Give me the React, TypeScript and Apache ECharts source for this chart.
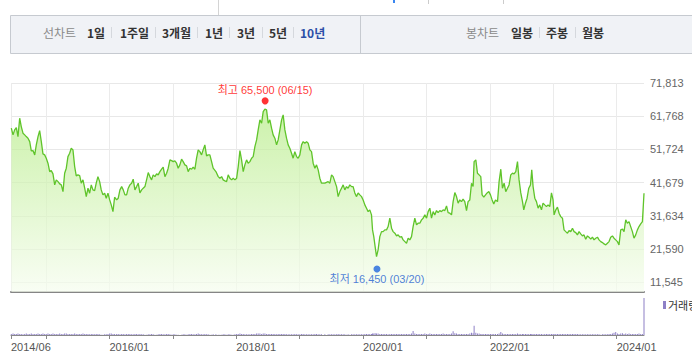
import React, { useEffect, useRef } from 'react';
import * as echarts from 'echarts';

// time in decimal years
const dates = [
  2014.453, 2014.480, 2014.506, 2014.532, 2014.558, 2014.585, 2014.610, 2014.637, 2014.664, 2014.689,
  2014.716, 2014.743, 2014.768, 2014.795, 2014.822, 2014.847, 2014.874, 2014.900, 2014.926, 2014.952,
  2014.979, 2015.004, 2015.031, 2015.058, 2015.083, 2015.110, 2015.137, 2015.162, 2015.189, 2015.216,
  2015.241, 2015.268, 2015.294, 2015.320, 2015.346, 2015.373, 2015.398, 2015.425, 2015.452, 2015.477,
  2015.504, 2015.531, 2015.556, 2015.583, 2015.610, 2015.635, 2015.662, 2015.688, 2015.714, 2015.740,
  2015.767, 2015.792, 2015.819, 2015.846, 2015.871, 2015.898, 2015.925, 2015.950, 2015.977, 2016.004,
  2016.029, 2016.056, 2016.082, 2016.114, 2016.139, 2016.166, 2016.193, 2016.218, 2016.245, 2016.271,
  2016.297, 2016.323, 2016.350, 2016.375, 2016.402, 2016.429, 2016.454, 2016.481, 2016.508, 2016.533,
  2016.560, 2016.586, 2016.612, 2016.638, 2016.665, 2016.690, 2016.717, 2016.744, 2016.769, 2016.796,
  2016.823, 2016.848, 2016.875, 2016.902, 2016.927, 2016.954, 2016.980, 2017.006, 2017.032, 2017.059,
  2017.084, 2017.111, 2017.138, 2017.163, 2017.190, 2017.217, 2017.242, 2017.269, 2017.296, 2017.321,
  2017.348, 2017.374, 2017.400, 2017.426, 2017.453, 2017.478, 2017.505, 2017.532, 2017.557, 2017.584,
  2017.611, 2017.636, 2017.679, 2017.716, 2017.742, 2017.769, 2017.794, 2017.821, 2017.848, 2017.873,
  2017.900, 2017.927, 2017.952, 2017.979, 2018.006, 2018.031, 2018.058, 2018.084, 2018.110, 2018.136,
  2018.163, 2018.188, 2018.215, 2018.242, 2018.267, 2018.294, 2018.321, 2018.346, 2018.373, 2018.400,
  2018.425, 2018.452, 2018.478, 2018.504, 2018.530, 2018.557, 2018.582, 2018.609, 2018.636, 2018.661,
  2018.688, 2018.715, 2018.740, 2018.767, 2018.793, 2018.819, 2018.845, 2018.872, 2018.897, 2018.924,
  2018.951, 2018.976, 2019.003, 2019.030, 2019.055, 2019.082, 2019.109, 2019.134, 2019.161, 2019.187,
  2019.213, 2019.240, 2019.266, 2019.292, 2019.318, 2019.345, 2019.397, 2019.449, 2019.476, 2019.503,
  2019.528, 2019.555, 2019.582, 2019.607, 2019.634, 2019.660, 2019.686, 2019.712, 2019.739, 2019.764,
  2019.791, 2019.818, 2019.843, 2019.870, 2019.897, 2019.922, 2019.949, 2019.976, 2020.001, 2020.028,
  2020.054, 2020.080, 2020.106, 2020.133, 2020.149, 2020.169, 2020.190, 2020.212, 2020.237, 2020.264,
  2020.291, 2020.316, 2020.343, 2020.370, 2020.395, 2020.422, 2020.449, 2020.474, 2020.501, 2020.528,
  2020.553, 2020.580, 2020.607, 2020.632, 2020.659, 2020.685, 2020.711, 2020.737, 2020.764, 2020.789,
  2020.816, 2020.843, 2020.868, 2020.895, 2020.922, 2020.947, 2020.974, 2021.001, 2021.026, 2021.053,
  2021.079, 2021.105, 2021.131, 2021.158, 2021.183, 2021.210, 2021.237, 2021.262, 2021.289, 2021.316,
  2021.341, 2021.368, 2021.395, 2021.420, 2021.447, 2021.473, 2021.499, 2021.525, 2021.552, 2021.577,
  2021.604, 2021.631, 2021.656, 2021.683, 2021.710, 2021.735, 2021.751, 2021.778, 2021.804, 2021.830,
  2021.856, 2021.877, 2021.904, 2021.931, 2021.956, 2021.983, 2022.009, 2022.035, 2022.061, 2022.088,
  2022.120, 2022.145, 2022.172, 2022.198, 2022.224, 2022.250, 2022.277, 2022.302, 2022.329, 2022.356,
  2022.381, 2022.408, 2022.435, 2022.460, 2022.487, 2022.514, 2022.534, 2022.561, 2022.586, 2022.613,
  2022.640, 2022.660, 2022.681, 2022.708, 2022.734, 2022.760, 2022.786, 2022.813, 2022.838, 2022.865,
  2022.892, 2022.917, 2022.944, 2022.971, 2022.996, 2023.012, 2023.039, 2023.065, 2023.091, 2023.117,
  2023.144, 2023.169, 2023.196, 2023.223, 2023.248, 2023.275, 2023.302, 2023.327, 2023.354, 2023.380,
  2023.406, 2023.432, 2023.459, 2023.484, 2023.511, 2023.538, 2023.563, 2023.590, 2023.617, 2023.642,
  2023.669, 2023.696, 2023.721, 2023.748, 2023.775, 2023.800, 2023.827, 2023.853, 2023.879, 2023.905,
  2023.932, 2023.957, 2023.984, 2024.011, 2024.036, 2024.063, 2024.090, 2024.115, 2024.142, 2024.168,
  2024.194, 2024.220, 2024.247, 2024.272, 2024.299, 2024.326, 2024.351, 2024.378, 2024.405, 2024.430,
];

const closes = [
  58140, 56110, 57620, 58320, 55600, 61160, 58620, 56630, 56110, 55600,
  55110, 54080, 51270, 51360, 50060, 53090, 55600, 57410, 54080, 50360,
  50060, 49060, 47550, 45010, 45310, 44310, 40980, 42500, 41980, 41290,
  40980, 38960, 44520, 46040, 49550, 50570, 52090, 51570, 46520, 43710,
  44010, 43800, 41500, 42500, 39990, 37440, 39990, 38470, 40980, 39470,
  39260, 41500, 43490, 41980, 39470, 37960, 38470, 36960, 38470, 36440,
  34930, 32900, 37260, 36440, 36960, 39470, 40470, 39470, 37960, 37960,
  39990, 40980, 41500, 42710, 39470, 40470, 41500, 38560, 39470, 39990,
  40470, 42500, 44700, 43490, 42500, 44010, 43490, 44310, 44010, 45010,
  45730, 46340, 43490, 44520, 46040, 48550, 48340, 48030, 48240, 47550,
  46040, 47030, 48760, 48030, 47030, 46730, 45010, 46040, 45730, 46340,
  45730, 49060, 51570, 51060, 50060, 51570, 53090, 49760, 50060, 50060,
  48030, 46040, 45010, 43490, 43010, 43490, 42500, 42190, 41980, 44010,
  43010, 42500, 43010, 42500, 43010, 46520, 51360, 48550, 45010, 47030,
  48550, 47550, 48030, 49060, 49550, 52570, 54600, 57620, 60650, 59650,
  63160, 63890, 63670, 59650, 60650, 58140, 56110, 55110, 53090, 54600,
  57620, 60650, 62160, 57620, 55110, 53090, 52090, 50570, 49060, 51060,
  49550, 49060, 50060, 53090, 54080, 53600, 54080, 53600, 51570, 51060,
  47550, 46040, 47030, 45520, 43010, 41500, 41500, 41980, 41500, 44010,
  43490, 41980, 40470, 37440, 38960, 39990, 40980, 39470, 40470, 39990,
  40980, 40470, 40470, 38560, 37440, 38560, 37960, 37440, 36440, 34930,
  33930, 32900, 33420, 31910, 27370, 25340, 22320, 19290, 21320, 25340,
  26850, 26850, 27370, 27370, 28370, 30910, 27880, 26850, 26370, 25550,
  25860, 25160, 25340, 24340, 23830, 23340, 24860, 24340, 25340, 28370,
  30910, 28880, 29400, 29400, 30390, 30910, 31910, 30910, 32900, 33930,
  30910, 32900, 31910, 33210, 32600, 33210, 32900, 33420, 33210, 34630,
  32600, 32420, 31910, 35930, 38650, 37440, 35450, 36440, 35930, 36660,
  35930, 33210, 35930, 36440, 41500, 40470, 48030, 48550, 44520, 44010,
  43490, 37960, 37260, 37960, 38560, 38960, 37960, 36440, 35230, 36440,
  35930, 41980, 45730, 39990, 41500, 38960, 39990, 40980, 44010, 44520,
  44310, 45010, 48030, 42500, 38560, 35930, 33420, 35450, 36960, 39990,
  40980, 45520, 40470, 36960, 35930, 33930, 34930, 33420, 35450, 34930,
  34420, 34930, 34420, 38560, 36440, 31910, 33420, 34240, 32420, 31390,
  30910, 27370, 26850, 26370, 27160, 26850, 27880, 26850, 26550, 25860,
  26850, 26160, 25550, 25860, 24560, 25550, 25160, 24560, 25160, 24340,
  24860, 25160, 24340, 23830, 23530, 23130, 22830, 23340, 23830, 25160,
  25550, 24860, 24340, 23830, 22830, 27370, 27580, 26850, 30390, 29400,
  29880, 28370, 26850, 24860, 25860, 27370, 28370, 29180, 29880, 38470,
];

const volumes = [
  3, 4, 3, 3, 4, 3, 3, 2, 3, 4, 3, 3, 4, 3, 3, 3, 4, 3, 3, 4,
  3, 3, 4, 3, 3, 4, 3, 3, 3, 4, 3, 3, 4, 4, 3, 3, 3, 3, 4, 3,
  3, 3, 3, 4, 3, 3, 3, 2, 3, 3, 2, 3, 3, 2, 1, 1, 2, 2, 3, 4,
  4, 3, 3, 3, 3, 2, 3, 3, 2, 3, 3, 3, 2, 2, 3, 3, 2, 3, 2, 2,
  1, 1, 2, 2, 3, 2, 1, 1, 2, 3, 3, 2, 2, 3, 3, 2, 1, 2, 2, 1,
  1, 0, 1, 2, 2, 1, 2, 3, 3, 2, 2, 3, 4, 3, 2, 2, 3, 2, 2, 1,
  1, 2, 2, 1, 1, 1, 2, 2, 1, 2, 2, 1, 1, 2, 3, 3, 4, 3, 3, 2,
  2, 2, 2, 3, 3, 3, 4, 4, 4, 3, 4, 4, 3, 3, 3, 3, 3, 3, 2, 3,
  3, 3, 3, 3, 2, 2, 2, 2, 2, 3, 2, 2, 2, 3, 3, 2, 2, 2, 2, 2,
  2, 3, 3, 2, 2, 2, 2, 2, 2, 2, 2, 2, 2, 3, 2, 2, 2, 2, 1, 2,
  1, 2, 2, 2, 2, 2, 2, 2, 2, 3, 3, 3, 3, 3, 4, 4, 5, 4, 4, 3,
  3, 3, 3, 3, 2, 3, 3, 3, 3, 3, 3, 3, 3, 3, 3, 3, 3, 3, 4, 11,
  4, 3, 3, 3, 3, 3, 4, 3, 3, 4, 3, 3, 3, 3, 3, 3, 3, 4, 3, 3,
  3, 3, 4, 10, 5, 4, 3, 3, 3, 3, 3, 3, 3, 4, 6, 5, 25, 6, 4, 4,
  3, 3, 3, 3, 3, 3, 3, 3, 3, 3, 3, 4, 8, 4, 3, 3, 3, 3, 3, 3,
  3, 3, 4, 3, 3, 3, 3, 3, 3, 3, 3, 3, 3, 3, 3, 3, 3, 3, 2, 3,
  3, 3, 3, 3, 3, 3, 3, 3, 3, 3, 3, 3, 3, 3, 3, 3, 3, 3, 3, 3,
  2, 2, 2, 2, 2, 2, 2, 2, 2, 2, 2, 2, 2, 1, 2, 2, 2, 2, 3, 3,
  4, 6, 8, 4, 3, 4, 5, 3, 4, 3, 4, 3, 3, 3, 3, 3, 4, 3, 3, 100,
];

const yTicks = [11545, 21590, 31634, 41679, 51724, 61768, 71813];
const xStart = 2014.448;
const xEnd = 2024.43;
const xTicks = [2014.448, 2015, 2016, 2017, 2018, 2019, 2020, 2021, 2022, 2023, 2024];
const xLabelTicks = [2014.448, 2016, 2018, 2020, 2022, 2024];
const highPoint = { date: 2018.455, value: 65500, text: '06/15' };
const lowPoint = { date: 2020.219, value: 16450, text: '03/20' };
const periodTabs = ['1일', '1주일', '3개월', '1년', '3년', '5년', '10년'];
const candleTabs = ['일봉', '주봉', '월봉'];

const KR = "'Noto Sans CJK KR', sans-serif";
const NUM = "'Liberation Sans', 'Noto Sans CJK KR', sans-serif";

function fmtYM(v: number) {
  const y = Math.floor(v + 1e-9);
  const m = Math.floor((v - y) * 12 + 1e-6) + 1;
  return `${y}/${String(m).padStart(2, '0')}`;
}
function fmtNum(v: number) {
  return Math.round(v).toLocaleString('en-US');
}

export default function App() {
  const ref = useRef<HTMLDivElement>(null);
  useEffect(() => {
    document.body.style.margin = '0';
    if (!ref.current) return;
    const chart = echarts.init(ref.current, undefined, { renderer: 'svg' });

    const periodX = [87, 120, 162, 205, 237, 269, 300];
    const periodSep = [111, 155, 197, 229, 262, 293];
    const candleX = [511, 546, 582];
    const candleSep = [539, 575];

    const graphics: any[] = [
      { type: 'line', shape: { x1: 218.5, y1: 0, x2: 218.5, y2: 15 }, style: { stroke: '#d4d4d4', lineWidth: 1 } },
      { type: 'rect', shape: { x: 393, y: 0, width: 2, height: 3 }, style: { fill: '#3a86f0' } },
      { type: 'line', shape: { x1: 428.5, y1: 0, x2: 428.5, y2: 4 }, style: { stroke: '#cccccc', lineWidth: 1 } },
      { type: 'line', shape: { x1: 503.5, y1: 0, x2: 503.5, y2: 4 }, style: { stroke: '#cccccc', lineWidth: 1 } },
      { type: 'rect', shape: { x: 10.5, y: 15.5, width: 690, height: 38 }, style: { fill: '#f0f2f6', stroke: '#c6cad0', lineWidth: 1 } },
      { type: 'line', shape: { x1: 360.5, y1: 15.5, x2: 360.5, y2: 53.5 }, style: { stroke: '#c6cad0', lineWidth: 1 } },
      { type: 'text', x: 43, y: 32, style: { text: '선차트', fontSize: 12, fontFamily: KR, fill: '#8a8a8a', verticalAlign: 'middle' } },
      { type: 'text', x: 466, y: 32, style: { text: '봉차트', fontSize: 12, fontFamily: KR, fill: '#8a8a8a', verticalAlign: 'middle' } },
    ];
    periodTabs.forEach((t, i) => {
      graphics.push({ type: 'text', x: periodX[i], y: 32, style: { text: t, fontSize: 12, fontWeight: 'bold', fontFamily: KR, fill: i === periodTabs.length - 1 ? '#2c4fa8' : '#333333', verticalAlign: 'middle' } });
    });
    periodSep.forEach((x) => graphics.push({ type: 'line', shape: { x1: x + 0.5, y1: 27, x2: x + 0.5, y2: 38 }, style: { stroke: '#d5d8dd', lineWidth: 1 } }));
    candleTabs.forEach((t, i) => {
      graphics.push({ type: 'text', x: candleX[i], y: 32, style: { text: t, fontSize: 12, fontWeight: 'bold', fontFamily: KR, fill: '#333333', verticalAlign: 'middle' } });
    });
    candleSep.forEach((x) => graphics.push({ type: 'line', shape: { x1: x + 0.5, y1: 27, x2: x + 0.5, y2: 38 }, style: { stroke: '#d5d8dd', lineWidth: 1 } }));
    graphics.push({ type: 'rect', shape: { x: 663, y: 301, width: 3, height: 8 }, style: { fill: '#8e80c6' } });
    graphics.push({ type: 'text', x: 668, y: 305, style: { text: '거래량', fontSize: 11, fontFamily: KR, fill: '#333333', verticalAlign: 'middle' } });

    const priceData = dates.map((d, i) => [d, closes[i]]);
    const volData = dates.map((d, i) => [d, volumes[i]]);

    chart.setOption({
      animation: false,
      graphic: graphics,
      grid: [
        { left: 11, width: 633, top: 83, height: 209 },
        { left: 11, width: 633, top: 298, height: 37 },
      ],
      xAxis: [
        {
          type: 'value', gridIndex: 0, min: xStart, max: xEnd,
          axisLine: { show: true, lineStyle: { color: '#858585', width: 2 } },
          axisTick: { show: false, customValues: xTicks },
          axisLabel: { show: false },
          splitLine: { show: true, lineStyle: { color: '#ebebeb', width: 1 } },
        },
        {
          type: 'value', gridIndex: 1, min: xStart, max: xEnd,
          axisLine: { show: true, lineStyle: { color: '#888888', width: 1 } },
          axisTick: { show: true, length: 4, customValues: xTicks, lineStyle: { color: '#888888' } },
          axisLabel: { show: true, customValues: xLabelTicks, formatter: (v: number) => fmtYM(v), align: 'left', margin: 6, fontSize: 11, fontFamily: NUM, color: '#555555' },
          splitLine: { show: false },
        },
      ],
      yAxis: [
        {
          type: 'value', gridIndex: 0, position: 'right', min: 8580, max: 71813,
          axisLine: { show: false },
          axisTick: { show: false, customValues: yTicks },
          axisLabel: { show: true, customValues: yTicks, formatter: (v: number) => fmtNum(v), margin: 6, fontSize: 11, fontFamily: NUM, color: '#666666' },
          splitLine: { show: true, lineStyle: { color: '#e8e8e8', width: 1 } },
        },
        {
          type: 'value', gridIndex: 1, min: 0, max: Math.max(...volumes),
          show: false,
          splitLine: { show: false },
        },
      ],
      series: [
        {
          type: 'line', xAxisIndex: 0, yAxisIndex: 0, data: priceData,
          showSymbol: false, symbol: 'none',
          lineStyle: { color: '#5fc42a', width: 1.3 },
          areaStyle: {
            color: new echarts.graphic.LinearGradient(0, 0, 0, 1, [
              { offset: 0, color: '#b6ec87' },
              { offset: 1, color: '#f6fdef' },
            ]),
          },
          z: 2,
        },
        {
          type: 'scatter', xAxisIndex: 0, yAxisIndex: 0, symbolSize: 7, z: 5,
          data: [
            {
              value: [highPoint.date, highPoint.value],
              symbolOffset: [0, -3],
              itemStyle: { color: '#ff0000' },
              label: { show: true, position: 'top', distance: 2, color: '#ff0000', fontSize: 11, fontFamily: NUM, formatter: `최고 ${fmtNum(highPoint.value)} (${highPoint.text})` },
            },
            {
              value: [lowPoint.date, lowPoint.value],
              symbolOffset: [0, 3],
              itemStyle: { color: '#1f66dd' },
              label: { show: true, position: 'bottom', distance: 1, color: '#1f5fd0', fontSize: 11, fontFamily: NUM, formatter: `최저 ${fmtNum(lowPoint.value)} (${lowPoint.text})` },
            },
          ],
        },
        {
          type: 'bar', xAxisIndex: 1, yAxisIndex: 1, data: volData,
          barWidth: 1, itemStyle: { color: '#8e80c6' },
        },
      ],
    });
    return () => chart.dispose();
  }, []);
  return <div ref={ref} style={{ width: 692, height: 363 }} />;
}
